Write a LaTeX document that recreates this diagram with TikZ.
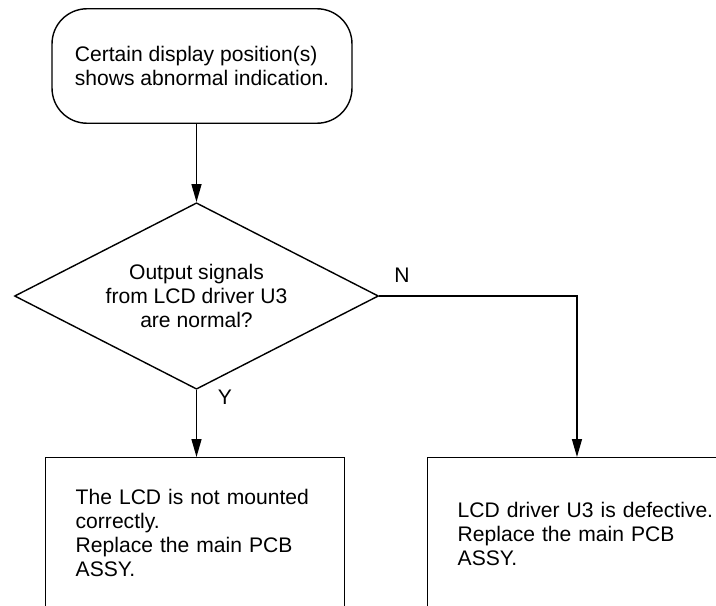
\documentclass[tikz,border=0pt]{standalone}
\usepackage{fontspec}
\setmainfont{Liberation Sans}
\usepackage{tikz}
\usetikzlibrary{shapes.geometric, arrows.meta, positioning, calc}
\tikzset{
  startbox/.style={rectangle, draw, rounded corners=0.7cm, align=left,
    minimum width=6cm, minimum height=2.29cm, line width=0.8pt},
  testbox/.style={diamond, draw, shape aspect=2, inner sep=0pt,
    align=center, minimum width=7.28cm, minimum height=3.73cm,
    line width=0.8pt},
  endbox/.style={rectangle, draw, anchor=north west, align=left,
    inner xsep=0.6cm, inner ysep=0.52cm, text depth=3cm,
    line width=0.8pt},
  flow/.style={-{Triangle[length=0.36cm, width=0.2cm]}, line width=0.8pt},
  answer/.style={inner sep=0pt}
}

\begin{document}
\begin{tikzpicture}[x=0.02cm, y=-0.02cm, font=\fontsize{12}{13.7}\selectfont]
  \useasboundingbox (0,0) rectangle (716,605);
  \clip (0,0) rectangle (716,605);
  % ── Start condition ────────────────────────────────────────────
  \node[startbox] (start) at (202,66)
    {Certain display position(s)\\shows abnormal indication.};
  % ── Decision ───────────────────────────────────────────────────
  \node[testbox] (test) at (196.5,296)
    {Output signals\\from LCD driver U3\\are normal?};
  % ── Outcomes (boxes run past the lower edge) ───────────────────
  \node[endbox, text width=4.78cm, text height=0.42cm] (yesbox) at (45,457)
    {The LCD is not mounted\\correctly.\\Replace the main PCB\\ASSY.};
  \node[endbox, text width=5.3cm, text height=0.68cm] (nobox) at (427,457)
    {LCD driver U3 is defective.\\Replace the main PCB\\ASSY.};
  % ── Connectors ─────────────────────────────────────────────────
  \draw[flow] (start.south -| test.north) -- (test.north);
  \draw[flow] (test.south) -- (test.south |- yesbox.north);
  \draw[flow] (test.east) -| ([xshift=3cm]nobox.north west);
  \node[answer] (yes) at (225,397) {Y};
  \node[answer] (no) at (402,275) {N};
\end{tikzpicture}
\end{document}
